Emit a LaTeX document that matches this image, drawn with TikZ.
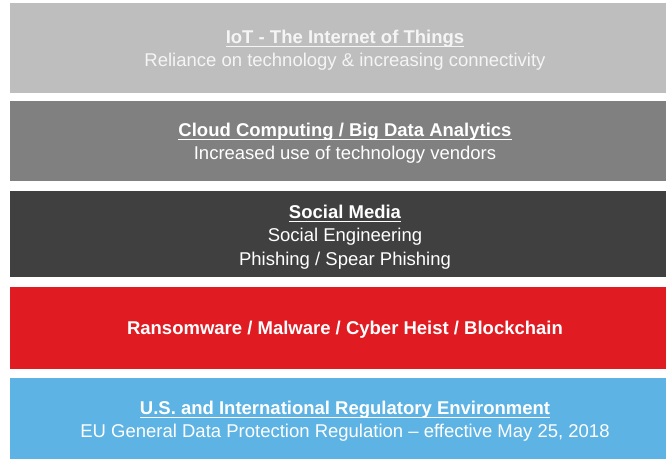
\documentclass[tikz,border=0pt]{standalone}
\usepackage{fontspec}
\setmainfont{Liberation Sans}
\usepackage{tikz}

\definecolor{iotgray}{HTML}{BEBEBE}
\definecolor{cloudgray}{HTML}{808080}
\definecolor{socialgray}{HTML}{404040}
\definecolor{ransomred}{HTML}{E01B22}
\definecolor{regblue}{HTML}{5DB3E3}
% bold title with a thin rule just under the baseline
\newcommand{\headline}[1]{\textbf{\setbox0\hbox{#1}\rlap{\rule[-3.2pt]{\wd0}{1pt}}\box0}}

\begin{document}
\begin{tikzpicture}[x=1pt,y=-1pt,
    bandtext/.style={text=white,align=center,font=\fontsize{18.5}{23.3}\selectfont}]
    \useasboundingbox (0,0) rectangle (666,459);
    \clip (0,0) rectangle (666,459);
    % stacked bands, top to bottom
    \fill[iotgray] (10,3) rectangle (680,93);
    \node[bandtext,text=white!96!black] (iot) at (345,50.5)
        {\headline{IoT - The Internet of Things}\\Reliance on technology \& increasing connectivity};
    \fill[cloudgray] (10,101) rectangle (680,181);
    \node[bandtext] (cloud) at (345,143.5)
        {\headline{Cloud Computing / Big Data Analytics}\\Increased use of technology vendors};
    \fill[socialgray] (10,191) rectangle (680,277);
    \node[bandtext] (social) at (345,237)
        {\headline{Social Media}\\Social Engineering\\Phishing / Spear Phishing};
    \fill[ransomred] (10,287) rectangle (680,369);
    \node[bandtext] (ransom) at (345,330)
        {\textbf{Ransomware / Malware / Cyber Heist / Blockchain}};
    \fill[regblue] (10,378) rectangle (680,459);
    \node[bandtext] (reg) at (345,421.5)
        {\headline{U.S. and International Regulatory Environment}\\EU General Data Protection Regulation -- effective May 25, 2018};
\end{tikzpicture}
\end{document}
